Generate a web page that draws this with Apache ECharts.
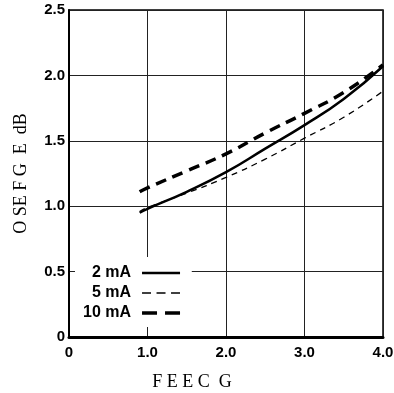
<!DOCTYPE html>
<html>
<head>
<meta charset="utf-8">
<script src="https://cdn.jsdelivr.net/npm/echarts@6/dist/echarts.min.js"></script>
<style>
  html, body { margin: 0; padding: 0; background: #fff; }
  #chart { width: 394px; height: 393px; }
</style>
</head>
<body>
<div id="chart"></div>
<script>
// values
var xValues = [0.9, 1.0, 1.5, 2.0, 2.5, 3.0, 3.5, 4.0];
var ma2 = [0.95, 0.98, 1.11, 1.26, 1.44, 1.62, 1.82, 2.07];
var ma5 = [0.96, 0.99, 1.10, 1.22, 1.36, 1.52, 1.68, 1.88];
var ma10 = [1.11, 1.14, 1.27, 1.40, 1.56, 1.71, 1.87, 2.08];
var seriesNames = ['2 mA', '5 mA', '10 mA'];
var xTickLabels = ['0', '1.0', '2.0', '3.0', '4.0'];
var yTickLabels = ['0', '0.5', '1.0', '1.5', '2.0', '2.5'];

function pairs(ys) {
  return xValues.map(function (x, i) { return [x, ys[i]]; });
}

var chart = echarts.init(document.getElementById('chart'));

var labelFont = {
  color: '#000',
  fontFamily: 'Liberation Sans',
  fontWeight: 'bold',
  fontSize: 15
};

chart.setOption({
  animation: false,
  grid: {
    left: 69, right: 11, top: 10, bottom: 56,
    outerBoundsMode: 'none',
    show: true,
    borderColor: '#000',
    borderWidth: 1.5
  },
  legend: {
    data: [
      { name: seriesNames[0], lineStyle: { width: 2.5 } },
      { name: seriesNames[1], lineStyle: { width: 1.3, type: [9, 5.5] } },
      { name: seriesNames[2], lineStyle: { width: 3.5, type: [15, 8] } }
    ],
    orient: 'vertical',
    align: 'right',
    left: 75,
    top: 257,
    padding: [8, 10, 6, 8],
    itemGap: 4,
    itemWidth: 38,
    itemHeight: 14,
    backgroundColor: '#fff',
    itemStyle: { opacity: 0 },
    textStyle: {
      color: '#000',
      fontFamily: 'Liberation Sans',
      fontWeight: 'bold',
      fontSize: 16,
      padding: [0, 6, 0, 0]
    }
  },
  xAxis: {
    type: 'value',
    min: 0, max: 4, interval: 1,
    name: 'F E E C  G',
    nameLocation: 'middle',
    nameGap: 36,
    nameTextStyle: {
      color: '#000',
      fontFamily: 'Liberation Serif',
      fontSize: 18,
      padding: [0, 68, 0, 0]
    },
    axisLine: { lineStyle: { color: '#000', width: 3 } },
    axisTick: { show: false },
    axisLabel: Object.assign({
      margin: 8,
      formatter: function (v) { return xTickLabels[Math.round(v)]; }
    }, labelFont),
    splitLine: { lineStyle: { color: '#222', width: 1 } }
  },
  yAxis: {
    type: 'value',
    min: 0, max: 2.5, interval: 0.5,
    name: 'O SE F G  E  dB',
    nameLocation: 'middle',
    nameGap: 39,
    nameRotate: 90,
    nameTextStyle: {
      color: '#000',
      fontFamily: 'Liberation Serif',
      fontSize: 18
    },
    axisLine: { lineStyle: { color: '#000', width: 2 } },
    axisTick: { show: false },
    axisLabel: Object.assign({
      margin: 4,
      formatter: function (v) { return yTickLabels[Math.round(v * 2)]; }
    }, labelFont),
    splitLine: { lineStyle: { color: '#222', width: 1 } }
  },
  series: [
    {
      name: seriesNames[0],
      type: 'line',
      smooth: true,
      symbol: 'none',
      data: pairs(ma2),
      lineStyle: { color: '#000', width: 2.5, type: 'solid' },
      itemStyle: { color: '#000' }
    },
    {
      name: seriesNames[1],
      type: 'line',
      smooth: true,
      symbol: 'none',
      data: pairs(ma5),
      lineStyle: { color: '#000', width: 1.3, type: [6, 5] },
      itemStyle: { color: '#000' }
    },
    {
      name: seriesNames[2],
      type: 'line',
      smooth: true,
      symbol: 'none',
      data: pairs(ma10),
      lineStyle: { color: '#000', width: 3.5, type: [11, 7] },
      itemStyle: { color: '#000' }
    }
  ]
});
</script>
</body>
</html>
